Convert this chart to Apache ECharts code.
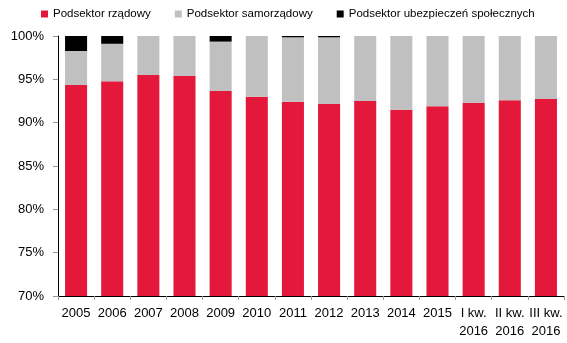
<!DOCTYPE html>
<html>
<head>
<meta charset="utf-8">
<script src="https://cdn.jsdelivr.net/npm/echarts@6/dist/echarts.min.js"></script>
<style>
  html, body { margin: 0; padding: 0; background: #fff; }
  #chart { width: 567px; height: 343px; }
</style>
</head>
<body>
<div id="chart"></div>
<script>
// Structure of the sector (shares in %)
const categories = ['2005', '2006', '2007', '2008', '2009', '2010', '2011', '2012', '2013', '2014', '2015',
  'I kw.\n2016', 'II kw.\n2016', 'III kw.\n2016'];
const rzadowy = [94.35, 94.77, 95.5, 95.4, 93.65, 93.0, 92.4, 92.15, 92.5, 91.5, 91.9, 92.27, 92.6, 92.73];
const ubezpieczen = [1.73, 0.9, 0, 0, 0.65, 0, 0.15, 0.15, 0, 0, 0, 0, 0, 0];
const samorzadowy = rzadowy.map((v, i) => +(100 - v - ubezpieczen[i]).toFixed(2));
const yTicks = { min: 70, max: 100, step: 5 };

const chart = echarts.init(document.getElementById('chart'), null, { renderer: 'canvas' });
const font = '"Liberation Sans", Arial, sans-serif';

chart.setOption({
  animation: false,
  textStyle: { fontFamily: font },
  legend: {
    left: 36,
    top: 3,
    itemWidth: 7,
    itemHeight: 7,
    itemGap: 24,
    icon: 'rect',
    textStyle: { fontFamily: font, fontSize: 11.5, color: '#000' },
    data: ['Podsektor rządowy', 'Podsektor samorządowy', 'Podsektor ubezpieczeń społecznych']
  },
  grid: { left: 58, right: 3, top: 36, bottom: 47 },
  xAxis: {
    type: 'category',
    data: categories,
    axisLine: { lineStyle: { color: '#000', width: 1 } },
    axisTick: { show: true, length: 4, lineStyle: { color: '#999' } },
    axisLabel: {
      interval: 0,
      hideOverlap: false,
      margin: 8,
      fontSize: 13,
      lineHeight: 18,
      color: '#000',
      fontFamily: font
    }
  },
  yAxis: {
    type: 'value',
    min: yTicks.min,
    max: yTicks.max,
    interval: yTicks.step,
    splitLine: { show: false },
    axisLine: { show: true, lineStyle: { color: '#000', width: 1 } },
    axisTick: { show: true, length: 5, lineStyle: { color: '#999' } },
    axisLabel: { formatter: '{value}%', fontSize: 13, color: '#000', margin: 14, fontFamily: font }
  },
  series: [
    {
      name: 'Podsektor rządowy', type: 'bar', stack: 'total', data: rzadowy,
      barCategoryGap: '39%',
      itemStyle: { color: '#E4183A' }
    },
    {
      name: 'Podsektor samorządowy', type: 'bar', stack: 'total', data: samorzadowy,
      itemStyle: { color: '#C0C0C0' }
    },
    {
      name: 'Podsektor ubezpieczeń społecznych', type: 'bar', stack: 'total', data: ubezpieczen,
      itemStyle: { color: '#000000' }
    }
  ]
});
</script>
</body>
</html>
